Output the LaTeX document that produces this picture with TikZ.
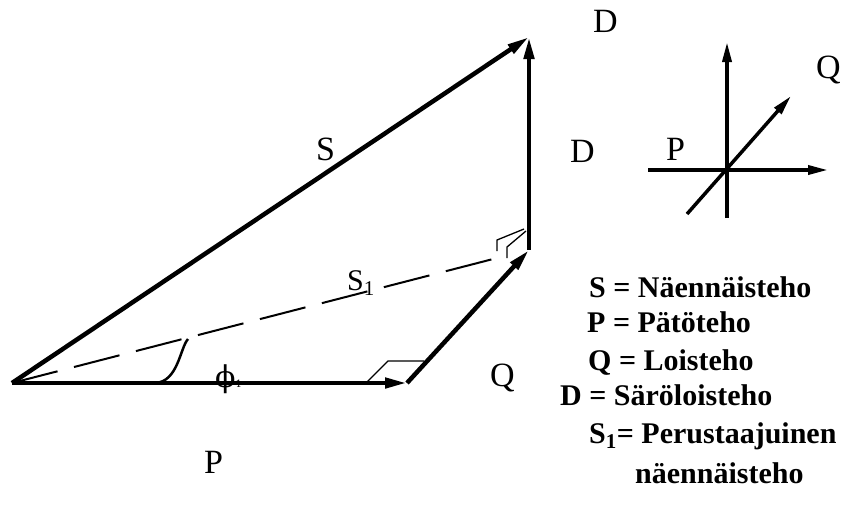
\documentclass[tikz,border=0pt]{standalone}
\usepackage{fontspec}
\setmainfont{Liberation Serif}
\newfontfamily\phifont{DejaVu Serif}
\usetikzlibrary{arrows.meta,positioning,calc}

\begin{document}
\begin{tikzpicture}[x=1pt,y=-1pt,
  vec/.style={line width=4.5pt, -{Triangle[length=22pt,width=10pt]}},
  axis/.style={line width=3.5pt, -{Triangle[length=20pt,width=9pt]}},
  fund/.style={line width=2pt, dash pattern=on 47pt off 17pt},
  rightmark/.style={line width=1.3pt},
  lbl/.style={anchor=base west, inner sep=0pt, font=\fontsize{34}{40}\selectfont},
  legend/.style={anchor=base west, inner sep=0pt, font=\fontsize{30}{36}\selectfont\bfseries}
]
  \useasboundingbox (0,0) rectangle (845,515);

  % power triangle
  \coordinate (O) at (12,383);
  \coordinate (Pend) at (407,383);
  \coordinate (Qend) at (529,250);
  \coordinate (Dend) at (529,37);
  \coordinate (S1end) at (497,258);

  \draw[fund] (O) -- (S1end);
  \draw[vec] (O) -- (Pend);
  \draw[vec] (Pend) -- (Qend);
  \draw[vec] (Qend) -- (Dend);
  \draw[vec] (O) -- (Dend);

  % angle and right-angle marks
  \draw[line width=2.5pt] (155,383) .. controls (178,382) and (180,348) .. (188,339);
  \draw[rightmark] (366,383) -- (388,361) -- (424,361);
  \draw[rightmark] (497,251) -- (497,240) -- (524,229);
  \draw[rightmark] (507,258) -- (507,247) -- (526,231);

  \node[lbl] (lS) at (316,160) {S};
  \node[lbl, font=\fontsize{30}{36}\selectfont] (lS1) at (347,290) {S\textsubscript{1}};
  \node[lbl] (lDr) at (570,162) {D};
  \node[lbl] (lDt) at (593,32) {D};
  \node[lbl] (lQ) at (490,386) {Q};
  \node[lbl] (lP) at (204,473) {P};
  \node[lbl, font=\fontsize{30}{34}\phifont] (lphi) at (215,387) {ϕ\raisebox{0pt}{\fontsize{10}{10}\selectfont 1}};

  % axes
  \coordinate (A) at (727,170);
  \draw[axis] (727,218) -- (727,42);
  \draw[axis] (648,170) -- (828,170);
  \draw[axis] (687,214) -- (791,96);
  \node[lbl] (aP) at (666,160) {P};
  \node[lbl] (aQ) at (816,78) {Q};

  % legend
  \node[legend] (leg1) at (589,297) {S = Näennäisteho};
  \node[legend] (leg2) at (587,332) {P = Pätöteho};
  \node[legend] (leg3) at (588,370) {Q = Loisteho};
  \node[legend] (leg4) at (560,405) {D = Säröloisteho};
  \node[legend] (leg5) at (589,443) {S\textsubscript{1}= Perustaajuinen};
  \node[legend] (leg6) at (635,483) {näennäisteho};
\end{tikzpicture}
\end{document}
